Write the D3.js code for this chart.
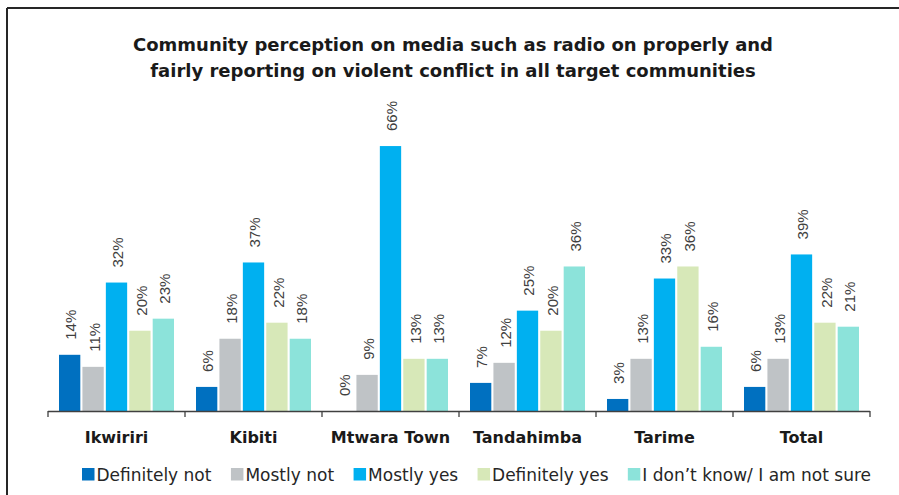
<!DOCTYPE html>
<html>
<head>
<meta charset="utf-8">
<script src="https://cdn.jsdelivr.net/npm/d3@7"></script>
<style>
  html, body { margin: 0; padding: 0; background: #fff; }
  svg { display: block; }
</style>
</head>
<body>
<svg id="chart" width="899" height="495"></svg>
<script>
// Communities shown along the x axis
const communities = ["Ikwiriri", "Kibiti", "Mtwara Town", "Tandahimba", "Tarime", "Total"];

// Response categories (legend order)
const responses = ["Definitely not", "Mostly not", "Mostly yes", "Definitely yes", "I don\u2019t know/ I am not sure"];

// Percentage of respondents per community, one array per response
const definitelyNot = [14, 6, 0, 7, 3, 6];
const mostlyNot     = [11, 18, 9, 12, 13, 13];
const mostlyYes     = [32, 37, 66, 25, 33, 39];
const definitelyYes = [20, 22, 13, 20, 36, 22];
const dontKnow      = [23, 18, 13, 36, 16, 21];

const responseColors = ["#0070C0", "#BFC3C6", "#00B0F0", "#D7E8B8", "#8CE3DA"];

const titleLines = [
  "Community perception on media such as radio on properly and",
  "fairly reporting on violent conflict in all target communities"
];

const seriesValues = [definitelyNot, mostlyNot, mostlyYes, definitelyYes, dontKnow];

const svg = d3.select("#chart");
const W = 899, H = 495;
const margin = { left: 48, right: 29, top: 130, bottom: 84 };
const baseY = H - margin.bottom;
const wideFont = "DejaVu Sans, Verdana, sans-serif";
const thinFont = "Liberation Sans, Arial, sans-serif";

// frame lines (top and left edges of the chart box)
svg.append("line").attr("x1", 7).attr("x2", W).attr("y1", 8).attr("y2", 8)
  .attr("stroke", "#262626").attr("stroke-width", 2);
svg.append("line").attr("x1", 7).attr("x2", 7).attr("y1", 8).attr("y2", H)
  .attr("stroke", "#262626").attr("stroke-width", 2);

// title
svg.append("g").selectAll("text").data(titleLines).join("text")
  .attr("x", 453).attr("y", (d, i) => 51 + i * 26)
  .attr("text-anchor", "middle")
  .attr("font-family", wideFont)
  .attr("font-weight", "bold").attr("font-size", 18)
  .attr("fill", "#1a1a1a")
  .text(d => d);

const x0 = d3.scaleBand().domain(communities).range([margin.left, W - margin.right]).padding(0);
const x1 = d3.scaleBand().domain(responses).range([11, x0.bandwidth() - 11]).paddingInner(0.09);
const y = d3.scaleLinear().domain([0, 70]).range([baseY, margin.top]);

const rows = communities.map((c, ci) => ({
  community: c,
  items: responses.map((r, ri) => ({ response: r, ri, value: seriesValues[ri][ci] }))
}));

const groups = svg.append("g").selectAll("g").data(rows).join("g")
  .attr("transform", d => `translate(${x0(d.community)},0)`);

groups.selectAll("rect").data(d => d.items).join("rect")
  .attr("x", d => x1(d.response))
  .attr("width", x1.bandwidth())
  .attr("y", d => y(d.value))
  .attr("height", d => baseY - y(d.value))
  .attr("fill", d => responseColors[d.ri]);

groups.selectAll("text.val").data(d => d.items).join("text")
  .attr("class", "val")
  .attr("transform", d => `translate(${x1(d.response) + x1.bandwidth() / 2 + 1.5},${y(d.value) - 15}) rotate(-90)`)
  .attr("dy", "0.35em")
  .attr("font-family", thinFont)
  .attr("font-size", 15)
  .attr("fill", "#404040")
  .text(d => d.value + "%");

// x axis with ticks at group boundaries
const axis = svg.append("g");
axis.append("line").attr("x1", margin.left).attr("x2", W - margin.right)
  .attr("y1", baseY + 0.5).attr("y2", baseY + 0.5)
  .attr("stroke", "#404040").attr("stroke-width", 1.3);
const bounds = communities.map(c => x0(c)).concat([x0(communities[communities.length - 1]) + x0.bandwidth()]);
axis.selectAll("line.tick").data(bounds).join("line").attr("class", "tick")
  .attr("x1", d => d).attr("x2", d => d)
  .attr("y1", baseY).attr("y2", baseY + 6)
  .attr("stroke", "#404040").attr("stroke-width", 1.3);
axis.selectAll("text").data(communities).join("text")
  .attr("x", d => x0(d) + x0.bandwidth() / 2)
  .attr("y", 443)
  .attr("text-anchor", "middle")
  .attr("font-family", wideFont)
  .attr("font-weight", "bold").attr("font-size", 16)
  .attr("fill", "#1a1a1a")
  .text(d => d);

// legend: swatches and labels spread across the chart width
const legend = svg.append("g");
const legendItems = legend.selectAll("g").data(responses).join("g");
legendItems.append("rect").attr("width", 12.5).attr("height", 12.5)
  .attr("y", 468).attr("fill", (d, i) => responseColors[i]);
legendItems.append("text").attr("x", 14.5).attr("y", 480.5)
  .attr("font-family", wideFont)
  .attr("font-size", 17).attr("fill", "#262626")
  .text(d => d);
const widths = [];
legendItems.each(function () { widths.push(this.getBBox().width); });
const legendLeft = 82, legendRight = 871;
const gap = (legendRight - legendLeft - d3.sum(widths)) / (responses.length - 1);
let cx = legendLeft;
const offsets = widths.map(w => { const o = cx; cx += w + gap; return o; });
legendItems.attr("transform", (d, i) => `translate(${offsets[i]},0)`);
</script>
</body>
</html>
